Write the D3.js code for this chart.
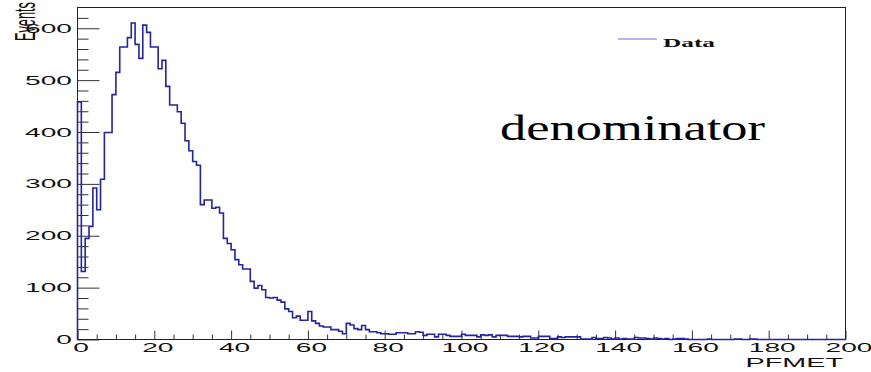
<!DOCTYPE html>
<html>
<head>
<meta charset="utf-8">
<script src="https://cdn.jsdelivr.net/npm/d3@7"></script>
<style>
  body { margin: 0; background: #fff; }
  svg { display: block; }
  .tick text { font-family: "Liberation Sans", Arial, sans-serif; font-size: 12.5px; fill: #111; }
</style>
</head>
<body>
<div id="chart"></div>
<script>
// PFMET histogram, 1 GeV bins from 0 to 200
var binEdges = [0, 200];
var events = [
  458, 131, 195, 218, 292, 250, 309, 399, 399, 472,
  515, 564, 564, 582, 610, 569, 542, 606, 592, 564,
  564, 522, 538, 488, 452, 452, 439, 417, 383, 364,
  343, 336, 260, 269, 269, 253, 255, 244, 195, 185,
  173, 154, 144, 136, 136, 112, 99, 104, 96, 81,
  80, 81, 76, 72, 59, 54, 42, 45, 37, 37,
  54, 36, 31, 26, 24, 24, 19, 19, 16, 11,
  31, 28, 21, 19, 27, 19, 15, 15, 13, 11,
  11, 10, 10, 13, 13, 13, 11, 11, 15, 14,
  8, 10, 10, 5, 10, 10, 8, 6, 6, 6,
  10, 8, 8, 8, 5, 9, 8, 9, 5, 8,
  8, 8, 6, 6, 6, 5, 6, 6, 3, 3,
  6, 6, 6, 2, 2, 5, 4, 5, 5, 5,
  5, 1, 1, 1, 4, 2, 2, 4, 3, 1,
  3, 1, 2, 1, 1, 4, 3, 3, 2, 1,
  3, 2, 1, 2, 0, 1, 2, 2, 1, 0,
  0, 0, 0, 0, 1, 0, 0, 0, 0, 0,
  0, 1, 1, 0, 0, 1, 1, 0, 0, 0,
  0, 0, 0, 0, 0, 0, 0, 0, 0, 0,
  0, 0, 0, 0, 0, 0, 0, 0, 0, 0
];
var yMajorTicks = [0, 100, 200, 300, 400, 500, 600];
var xMajorTicks = [0, 20, 40, 60, 80, 100, 120, 140, 160, 180, 200];
var xTitle = "PFMET";
var yTitle = "Events";
var legendLabel = "Data";
var note = "denominator";

var width = 871, height = 372;
var margin = { top: 7.5, right: 25.5, bottom: 32.5, left: 77.5 };
var sx = 2.25; // the text in the original is stretched sideways

var svg = d3.select("#chart").append("svg")
  .attr("width", width)
  .attr("height", height);

var x = d3.scaleLinear().domain(binEdges).range([margin.left, width - margin.right]);
var y = d3.scaleLinear().domain([0, 640]).range([height - margin.bottom, margin.top]);

// minor ticks
var yMinor = d3.range(0, 621, 20).filter(function(d) { return d % 100 !== 0; });
var xMinor = d3.range(0, 201, 5).filter(function(d) { return d % 20 !== 0; });

svg.append("g")
  .attr("transform", "translate(" + margin.left + ",0)")
  .call(d3.axisLeft(y).tickValues(yMinor).tickSize(-11).tickFormat(""));

svg.append("g")
  .attr("transform", "translate(0," + (height - margin.bottom) + ")")
  .call(d3.axisBottom(x).tickValues(xMinor).tickSize(-5).tickFormat(""));

// major ticks with labels
var yAxis = svg.append("g")
  .attr("transform", "translate(" + margin.left + ",0)")
  .call(d3.axisLeft(y).tickValues(yMajorTicks).tickSize(-22).tickPadding(5.5));

var xAxis = svg.append("g")
  .attr("transform", "translate(0," + (height - margin.bottom) + ")")
  .call(d3.axisBottom(x).tickValues(xMajorTicks).tickSize(-9).tickPadding(4));

svg.selectAll(".domain").remove();
svg.selectAll(".tick line").attr("stroke", "#333");

// stretch the tick labels horizontally
yAxis.selectAll(".tick text")
  .attr("x", null)
  .attr("transform", "translate(-5.5,0) scale(" + sx + ",1)");
xAxis.selectAll(".tick text")
  .attr("y", null)
  .attr("transform", "translate(3,4) scale(" + sx + ",1)");

// frame
svg.append("rect")
  .attr("x", x(0))
  .attr("y", y(640))
  .attr("width", x(200) - x(0))
  .attr("height", y(0) - y(640))
  .attr("fill", "none")
  .attr("stroke", "#222")
  .attr("stroke-width", 1);

// histogram outline
var pts = [[0, 0]];
events.forEach(function(v, i) { pts.push([i, v]); });
pts.push([200, events[events.length - 1]]);

var line = d3.line()
  .x(function(d) { return x(d[0]); })
  .y(function(d) { return y(d[1]); })
  .curve(d3.curveStepAfter);

svg.append("path")
  .datum(pts)
  .attr("d", line)
  .attr("fill", "none")
  .attr("stroke", "#2323a8")
  .attr("stroke-width", 1.6);

// axis titles
svg.append("text")
  .attr("transform", "translate(843,366.5) scale(" + sx + ",1)")
  .attr("text-anchor", "end")
  .style("font-family", "'Liberation Sans', Arial, sans-serif")
  .style("font-size", "12.8px")
  .attr("fill", "#111")
  .text(xTitle);

svg.append("text")
  .attr("transform", "translate(35,2) scale(" + sx + ",1) rotate(-90)")
  .attr("text-anchor", "end")
  .style("font-family", "'Liberation Sans', Arial, sans-serif")
  .style("font-size", "12.8px")
  .attr("fill", "#111")
  .text(yTitle);

// legend
svg.append("line")
  .attr("x1", 618).attr("x2", 657)
  .attr("y1", 39).attr("y2", 39)
  .attr("stroke", "#6f6fcc")
  .attr("stroke-width", 1.2);

svg.append("text")
  .attr("transform", "translate(663,47) scale(2.18,1)")
  .style("font-family", "'Liberation Serif', 'Times New Roman', serif")
  .style("font-size", "11.6px")
  .style("font-weight", "bold")
  .attr("fill", "#111")
  .text(legendLabel);

// big label
svg.append("text")
  .attr("x", 500)
  .attr("y", 140)
  .attr("textLength", 265)
  .attr("lengthAdjust", "spacingAndGlyphs")
  .style("font-family", "'Liberation Serif', 'Times New Roman', serif")
  .style("font-size", "36px")
  .attr("fill", "#000")
  .text(note);
</script>
</body>
</html>
